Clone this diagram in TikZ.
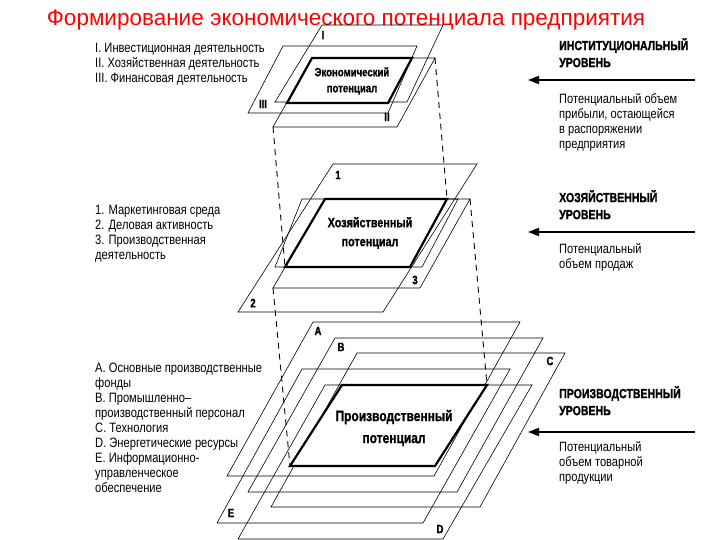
\documentclass[tikz,border=0pt]{standalone}
\usepackage{fontspec}
\setmainfont{Liberation Sans}
\newfontfamily\nar[FakeStretch=0.82]{Liberation Sans}
\newfontfamily\narb[FakeStretch=0.8,FakeBold=1.2]{Liberation Sans Bold}
\usetikzlibrary{arrows.meta}
\begin{document}
\begin{tikzpicture}[x=1pt,y=-1pt,
  plane/.style={draw=black,line width=0.6pt},
  core/.style={draw=black,fill=white,line width=2.2pt,line join=miter},
  dashline/.style={draw=black,dash pattern=on 6pt off 5pt,line width=0.9pt},
  lab/.style={font=\narb\fontsize{12}{12}\selectfont,inner sep=0pt},
  txt/.style={font=\nar\fontsize{13.6}{15}\selectfont,align=left,anchor=north west,inner sep=0pt},
  head/.style={font=\narb\fontsize{13.2}{17}\selectfont,align=left,anchor=north west,inner sep=0pt},
  core label/.style={align=center},
  arr/.style={line width=2pt,-{Triangle[length=11pt,width=8pt]}}]
\useasboundingbox (0,0) rectangle (720,540);
\fill[white] (0,0) rectangle (720,540);
\node[text=red,font=\fontsize{22.5}{24}\selectfont] (title) at (346,20) {Формирование экономического потенциала предприятия};
% top level
\draw[plane] (322,25) -- (443,25) -- (407,102) -- (275,102) -- cycle;
\draw[plane] (283,46) -- (417,46) -- (388,113) -- (248,113) -- cycle;
\draw[plane] (312,58) -- (435,58) -- (397,127) -- (273,127) -- cycle;
\draw[core] (312,58) -- (412,58) -- (388,103) -- (287,103) -- cycle;
\node[core label,font=\narb\fontsize{12}{16}\selectfont] (c1) at (352,81) {Экономический\\потенциал};
\coordinate (t1) at (273,127); \coordinate (t2) at (435,58);
\node[lab] (lI) at (323,35) {I};
\node[lab] (lIII) at (263,104) {III};
\node[lab] (lII) at (387,117) {II};
% middle
\draw[plane] (333,164) -- (477,164) -- (383,312) -- (238,312) -- cycle;
\draw[plane] (302,199) -- (458,199) -- (422,267) -- (275,267) -- cycle;
\draw[plane] (325,199) -- (470,199) -- (420,288) -- (273,288) -- cycle;
\draw[core] (325,199) -- (447,199) -- (410,267) -- (285,267) -- cycle;
\node[core label,font=\narb\fontsize{13.5}{19}\selectfont] (c2) at (370,233) {Хозяйственный\\потенциал};
\coordinate (m1) at (285,267); \coordinate (m2) at (447,199);
\coordinate (m3) at (273,288); \coordinate (m4) at (470,199);
\node[lab] (l1) at (338,175) {1};
\node[lab] (l2) at (253,303) {2};
\node[lab] (l3) at (415,280) {3};
% bottom
\draw[plane] (313,322) -- (520,322) -- (434,476) -- (227,476) -- cycle;
\draw[plane] (335,338) -- (543,338) -- (457,492) -- (248,492) -- cycle;
\draw[plane] (357,353) -- (565,353) -- (480,507) -- (271,507) -- cycle;
\draw[plane] (302,369) -- (510,369) -- (423,523) -- (217,523) -- cycle;
\draw[plane] (325,385) -- (532,385) -- (443,539) -- (238,539) -- cycle;
\draw[core] (342,385) -- (487,385) -- (435,466) -- (290,466) -- cycle;
\node[core label,font=\narb\fontsize{15}{22}\selectfont] (c3) at (394,428) {Производственный\\потенциал};
\coordinate (b1) at (290,466); \coordinate (b2) at (487,385);
\node[lab] (lA) at (318,331) {A};
\node[lab] (lB) at (341,347) {B};
\node[lab] (lC) at (550,361) {C};
\node[lab] (lE) at (231,513) {E};
\node[lab] (lD) at (440,529) {D};
% dashed connectors
\draw[dashline] (t1) -- (m1);
\draw[dashline] (t2) -- (m2);
\draw[dashline] (m3) -- (b1);
\draw[dashline] (m4) -- (b2);
% left texts
\node[txt] (tx1) at (95,43) {I. Инвестиционная деятельность\\II. Хозяйственная деятельность\\III. Финансовая деятельность};
\node[txt] (tx2) at (95,205) {1. Маркетинговая среда\\2. Деловая активность\\3. Производственная\\деятельность};
\node[txt] (tx3) at (95,363) {A. Основные производственные\\фонды\\B. Промышленно–\\производственный персонал\\C. Технология\\D. Энергетические ресурсы\\E. Информационно-\\управленческое\\обеспечение};
% right texts
\node[head] (h1) at (559,38) {ИНСТИТУЦИОНАЛЬНЫЙ\\УРОВЕНЬ};
\node[txt,font=\nar\fontsize{13.5}{15}\selectfont] (d1) at (559,93) {Потенциальный объем\\прибыли, остающейся\\в распоряжении\\предприятия};
\node[head] (h2) at (559,190) {ХОЗЯЙСТВЕННЫЙ\\УРОВЕНЬ};
\node[txt,font=\nar\fontsize{13.5}{15}\selectfont] (d2) at (559,243) {Потенциальный\\объем продаж};
\node[head] (h3) at (559,386) {ПРОИЗВОДСТВЕННЫЙ\\УРОВЕНЬ};
\node[txt,font=\nar\fontsize{13.5}{15}\selectfont] (d3) at (559,441) {Потенциальный\\объем товарной\\продукции};
\coordinate (a1s) at (695,80); \coordinate (a1e) at (528,80);
\coordinate (a2s) at (695,232); \coordinate (a2e) at (528,232);
\coordinate (a3s) at (695,432); \coordinate (a3e) at (528,432);
\draw[arr] (a1s) -- (a1e);
\draw[arr] (a2s) -- (a2e);
\draw[arr] (a3s) -- (a3e);
\end{tikzpicture}
\end{document}
